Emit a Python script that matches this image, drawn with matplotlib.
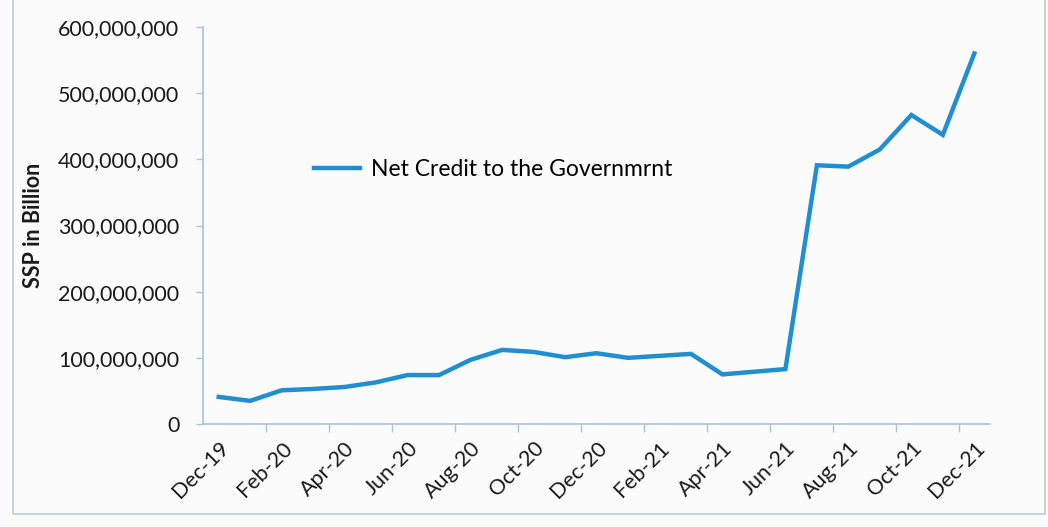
import matplotlib
matplotlib.use("Agg")
import matplotlib.pyplot as plt
from matplotlib.ticker import FuncFormatter, FixedLocator

months = ["Dec-19", "Jan-20", "Feb-20", "Mar-20", "Apr-20", "May-20", "Jun-20",
          "Jul-20", "Aug-20", "Sep-20", "Oct-20", "Nov-20", "Dec-20", "Jan-21",
          "Feb-21", "Mar-21", "Apr-21", "May-21", "Jun-21", "Jul-21", "Aug-21",
          "Sep-21", "Oct-21", "Nov-21", "Dec-21"]
net_credit = [41e6, 35e6, 51e6, 53e6, 56e6, 63e6, 74e6, 74e6, 97e6, 112e6,
              109e6, 101e6, 107e6, 100e6, 103e6, 106e6, 75e6, 79e6, 83e6,
              391e6, 389e6, 415e6, 467e6, 437e6, 560e6]
y_ticks = [0, 100e6, 200e6, 300e6, 400e6, 500e6, 600e6]

plt.rcParams["font.family"] = ["Lato", "DejaVu Sans"]
AXIS = "#a9c3d6"
LINE = "#1f8fd2"
TEXT = "#1a1a1a"

fig = plt.figure(figsize=(10.48, 5.27), dpi=100, facecolor="#fbfbfc")
ax = fig.add_axes([0.1937, 0.1954, 0.751, 0.7534])
ax.set_facecolor("none")

x = list(range(len(months)))
ax.plot(x, net_credit, color=LINE, linewidth=3.2, solid_joinstyle="miter",
        label="Net Credit to the Governmrnt")

ax.set_xlim(-0.5, len(months) - 0.5)
ax.set_ylim(0, 600e6)

ax.yaxis.set_major_locator(FixedLocator(y_ticks))
ax.yaxis.set_major_formatter(FuncFormatter(lambda v, p: f"{int(v):,}"))
ax.tick_params(axis="y", length=5, width=1, color=AXIS, labelsize=15.5,
               labelcolor=TEXT, pad=12)

# category labels every other month, tick marks between categories
ax.set_xticks(x[::2])
ax.set_xticklabels(months[::2], rotation=45, ha="right", rotation_mode="anchor")
ax.set_xticks([i + 1.5 for i in range(0, len(months) - 1, 2)], minor=True)
ax.tick_params(axis="x", which="major", length=0, labelsize=15.5,
               labelcolor=TEXT, pad=10)
ax.tick_params(axis="x", which="minor", length=6, width=1, color=AXIS)

for side in ("top", "right"):
    ax.spines[side].set_visible(False)
for side in ("left", "bottom"):
    ax.spines[side].set_color(AXIS)
    ax.spines[side].set_linewidth(1.2)

ax.set_ylabel("SSP in Billion", fontsize=15.5, fontweight="bold", color=TEXT,
              labelpad=10)

ax.legend(loc="upper left", bbox_to_anchor=(0.115, 0.72), frameon=False,
          fontsize=16.5, handlelength=2.0, handletextpad=0.5)

# outer chart frame
fig.add_artist(plt.Rectangle((0.012, 0.025), 0.985, 0.985, transform=fig.transFigure,
                             fill=False, edgecolor="#b7cde0", linewidth=1.2))

fig.savefig("out.png", dpi=100, facecolor=fig.get_facecolor())
